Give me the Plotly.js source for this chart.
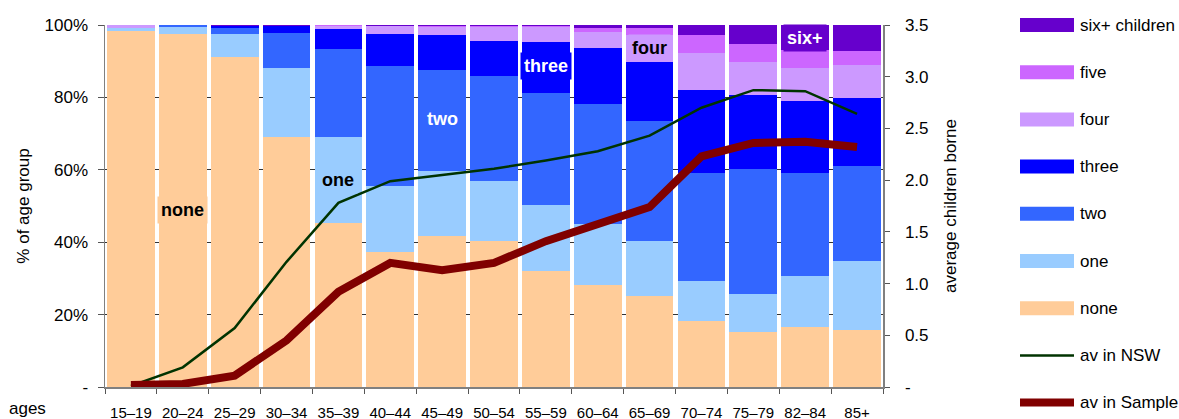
<!DOCTYPE html>
<html>
<head>
<meta charset="utf-8">
<script src="https://cdn.plot.ly/plotly-3.0.1.min.js"></script>
<style>html,body{margin:0;padding:0;background:#fff;}#chart{width:1179px;height:419px;}</style>
</head>
<body>
<div id="chart"></div>
<script>
// ---- data ----
const ages = ["15–19","20–24","25–29","30–34","35–39","40–44","45–49","50–54","55–59","60–64","65–69","70–74","75–79","82–84","85+"];
const none  = [98.3, 97.6, 91.2, 69.1, 45.3, 37.4, 41.7, 40.3, 32.0, 28.2, 25.1, 18.2, 15.2, 16.6, 15.7];
const one   = [0.9, 1.9, 6.4, 19.0, 23.8, 18.2, 18.0, 16.6, 18.3, 16.8, 15.2, 11.1, 10.5, 14.1, 19.1];
const two   = [0.1, 0.5, 1.7, 9.8, 24.3, 33.1, 27.9, 29.0, 30.9, 33.2, 33.2, 29.8, 34.5, 28.4, 26.2];
const three = [0.0, 0.0, 0.3, 1.7, 5.5, 8.8, 9.6, 9.7, 14.2, 15.5, 16.4, 22.9, 20.5, 19.9, 18.8];
const four  = [0.7, 0.0, 0.2, 0.0, 0.9, 2.1, 2.2, 3.8, 4.0, 4.4, 7.4, 10.2, 9.2, 9.1, 9.2];
const five  = [0.0, 0.0, 0.0, 0.1, 0.1, 0.2, 0.3, 0.2, 0.3, 1.2, 1.8, 5.0, 4.9, 5.0, 3.8];
const six   = [0.0, 0.0, 0.2, 0.3, 0.1, 0.2, 0.3, 0.4, 0.3, 0.7, 0.9, 2.8, 5.2, 6.9, 7.2];
const avNSW    = [0.01, 0.19, 0.57, 1.21, 1.78, 1.99, 2.05, 2.11, 2.19, 2.28, 2.43, 2.70, 2.87, 2.86, 2.64];
const avSample = [0.02, 0.03, 0.11, 0.45, 0.92, 1.20, 1.13, 1.20, 1.41, 1.57, 1.74, 2.23, 2.36, 2.37, 2.32];
const leftTickVals = [0, 20, 40, 60, 80, 100];
const leftTickText = ["-", "20%", "40%", "60%", "80%", "100%"];
const rightTickVals = [0, 0.5, 1, 1.5, 2, 2.5, 3, 3.5];
const rightTickText = ["-", "0.5", "1.0", "1.5", "2.0", "2.5", "3.0", "3.5"];
const seriesNames = ["none", "one", "two", "three", "four", "five", "six+ children"];
const seriesColors = ["#FFCC99", "#99CCFF", "#3366FF", "#0000FF", "#CC99FF", "#CC66FF", "#6600CC"];
const seriesData = [none, one, two, three, four, five, six];

// ---- layout constants (pixels) ----
const W = 1179, H = 419;
const L = 105, R = 883, T = 25, B = 387;
const FONT = "Liberation Sans, Arial, Helvetica, sans-serif";
const px2x = px => (px - L) / (R - L);
const px2y = py => (B - py) / (B - T);

const traces = [];
seriesData.forEach((d, i) => {
  traces.push({
    type: "bar", x: ages, y: d, name: seriesNames[i],
    marker: {color: seriesColors[i], line: {width: 0}},
    showlegend: false, hoverinfo: "skip"
  });
});
traces.push({type: "scatter", mode: "lines", x: ages, y: avNSW, yaxis: "y2", name: "av in NSW",
  line: {color: "#003300", width: 2.5}, showlegend: false, hoverinfo: "skip"});
traces.push({type: "scatter", mode: "lines", x: ages, y: avSample, yaxis: "y2", name: "av in Sample",
  line: {color: "#800000", width: 8}, showlegend: false, hoverinfo: "skip"});

// custom legend
const legendItems = [
  {name: "six+ children", color: "#6600CC", kind: "bar"},
  {name: "five", color: "#CC66FF", kind: "bar"},
  {name: "four", color: "#CC99FF", kind: "bar"},
  {name: "three", color: "#0000FF", kind: "bar"},
  {name: "two", color: "#3366FF", kind: "bar"},
  {name: "one", color: "#99CCFF", kind: "bar"},
  {name: "none", color: "#FFCC99", kind: "bar"},
  {name: "av in NSW", color: "#003300", kind: "line", w: 2.5},
  {name: "av in Sample", color: "#800000", kind: "line", w: 8}
];
const shapes = [];
const annotations = [];
legendItems.forEach((it, i) => {
  const cy = 25 + i * 47.2;
  if (it.kind === "bar") {
    shapes.push({type: "rect", xref: "paper", yref: "paper",
      x0: px2x(1020), x1: px2x(1074), y0: px2y(cy - 7), y1: px2y(cy + 7),
      fillcolor: it.color, line: {width: 0}});
  } else {
    shapes.push({type: "line", xref: "paper", yref: "paper",
      x0: px2x(1020), x1: px2x(1074), y0: px2y(cy), y1: px2y(cy),
      line: {color: it.color, width: it.w}});
  }
  annotations.push({xref: "paper", yref: "paper", x: px2x(1078), y: px2y(cy),
    xanchor: "left", yanchor: "middle", showarrow: false, text: it.name,
    font: {family: FONT, size: 17, color: "#000"}});
});

// in-chart labels
const labels = [
  {text: "none", x: "20–24", y: 48.9, color: "#000", bg: "#FFCC99"},
  {text: "one", x: "35–39", y: 57.2, color: "#000", bg: "#99CCFF"},
  {text: "two", x: "45–49", y: 74.0, color: "#fff", bg: "rgba(0,0,0,0)"},
  {text: "three", x: "55–59", y: 88.7, color: "#fff", bg: "#0000FF"},
  {text: "four", x: "65–69", y: 93.6, color: "#000", bg: "#CC99FF"},
  {text: "six+", x: "82–84", y: 96.4, color: "#fff", bg: "#6600CC"}
];
labels.forEach(l => {
  annotations.push({xref: "x", yref: "y", x: l.x, y: l.y, text: "<b>" + l.text + "</b>",
    showarrow: false, bgcolor: l.bg, borderpad: 3,
    font: {family: FONT, size: 18, color: l.color}});
});
annotations.push({xref: "paper", yref: "paper", x: px2x(7), y: px2y(408), xanchor: "left", yanchor: "middle",
  showarrow: false, text: "ages", font: {family: FONT, size: 17, color: "#000"}});

const layout = {
  width: W, height: H,
  margin: {l: L, r: W - R, t: T, b: H - B, pad: 0},
  paper_bgcolor: "#fff", plot_bgcolor: "#fff",
  barmode: "stack", bargap: 0.08,
  font: {family: FONT, size: 17, color: "#000"},
  showlegend: false,
  xaxis: {
    type: "category", showline: true, linecolor: "#808080", linewidth: 1.5,
    ticks: "outside", tickson: "boundaries", ticklen: 5, tickcolor: "#555",
    tickfont: {family: FONT, size: 15}, ticklabelstandoff: 11,
    showgrid: false, zeroline: false, fixedrange: true
  },
  yaxis: {
    range: [0, 100], tickvals: leftTickVals, ticktext: leftTickText,
    showline: true, linecolor: "#808080", linewidth: 1.5,
    ticks: "outside", ticklen: 6, tickcolor: "#555", ticklabelstandoff: 6,
    showgrid: true, gridcolor: "#333", gridwidth: 1, zeroline: false,
    tickfont: {family: FONT, size: 17},
    title: {text: "% of age group", font: {family: FONT, size: 17}, standoff: 10}
  },
  yaxis2: {
    overlaying: "y", side: "right", range: [0, 3.5],
    tickvals: rightTickVals, ticktext: rightTickText,
    showline: true, linecolor: "#808080", linewidth: 1.5,
    ticks: "outside", ticklen: 5, tickcolor: "#555", ticklabelstandoff: 12,
    showgrid: false, zeroline: false,
    tickfont: {family: FONT, size: 17},
    title: {text: "average children borne", font: {family: FONT, size: 17}, standoff: 16}
  },
  shapes: shapes,
  annotations: annotations
};

Plotly.newPlot("chart", traces, layout, {displayModeBar: false, staticPlot: true});
</script>
</body>
</html>
